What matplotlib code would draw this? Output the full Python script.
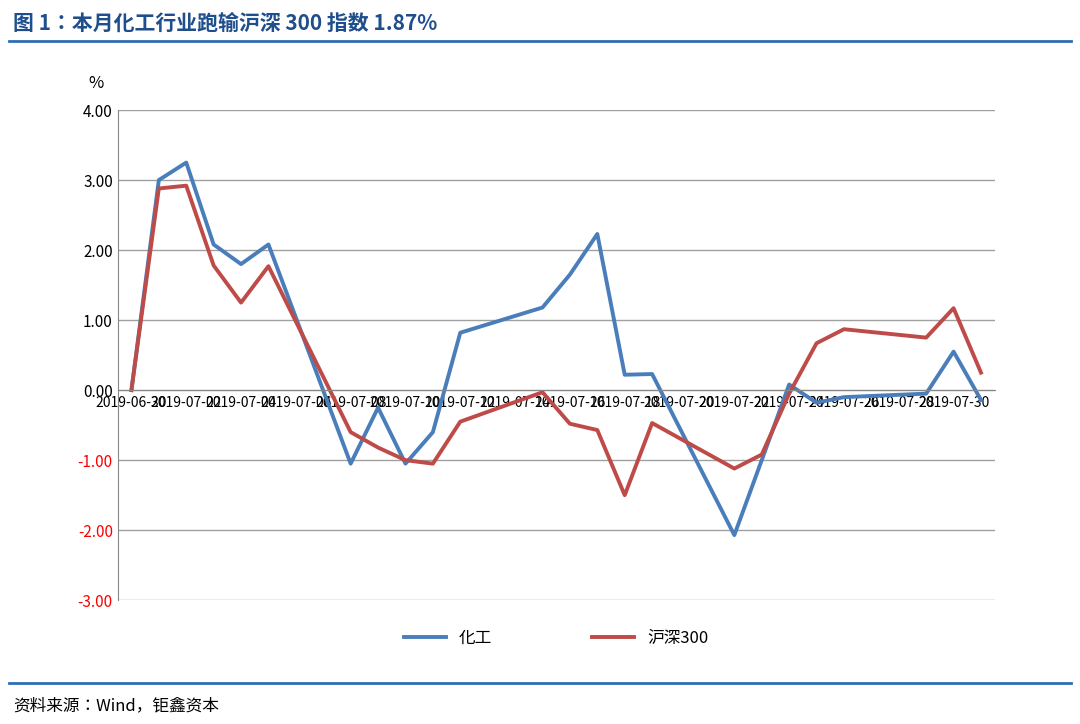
import matplotlib
matplotlib.use("Agg")
import matplotlib.pyplot as plt
import matplotlib.dates as mdates
import pandas as pd

dates = ["2019-06-30","2019-07-01","2019-07-02","2019-07-03","2019-07-04","2019-07-05",
         "2019-07-08","2019-07-09","2019-07-10","2019-07-11","2019-07-12","2019-07-15",
         "2019-07-16","2019-07-17","2019-07-18","2019-07-19","2019-07-22","2019-07-23",
         "2019-07-24","2019-07-25","2019-07-26","2019-07-29","2019-07-30","2019-07-31"]
chem = [0.0, 3.00, 3.25, 2.08, 1.80, 2.08, -1.05, -0.25, -1.05, -0.60, 0.82, 1.18,
        1.65, 2.23, 0.22, 0.23, -2.07, -1.00, 0.08, -0.18, -0.10, -0.05, 0.55, -0.14]
hs300 = [0.0, 2.88, 2.92, 1.78, 1.25, 1.77, -0.60, -0.82, -1.00, -1.05, -0.45, -0.03,
         -0.48, -0.57, -1.50, -0.47, -1.12, -0.92, -0.05, 0.67, 0.87, 0.75, 1.17, 0.25]
yticks = [4, 3, 2, 1, 0, -1, -2, -3]
xticks = pd.date_range("2019-06-30", "2019-07-30", freq="2D")

CJK = ["Noto Sans CJK SC", "Noto Sans CJK JP", "Noto Sans CJK TC", "DejaVu Sans"]
plt.rcParams["font.family"] = CJK
x = pd.to_datetime(dates)
fig = plt.figure(figsize=(10.8, 7.24), dpi=100)
fig.text(0.012, 0.968, "图 1：本月化工行业跑输沪深 300 指数 1.87%", fontsize=15, fontweight="bold",
         color="#1f4e8c", family=CJK, va="center")
fig.add_artist(plt.Line2D([0.008, 0.992], [0.943, 0.943], color="#2e6db4", lw=2))
fig.add_artist(plt.Line2D([0.008, 0.992], [0.057, 0.057], color="#2e6db4", lw=2))
fig.text(0.012, 0.025, "资料来源：Wind，钜鑫资本", fontsize=12, va="center", family=CJK)

ax = fig.add_axes([0.109, 0.171, 0.812, 0.677])
ax.plot(x, chem, color="#4a7ebb", lw=2.8, label="化工")
ax.plot(x, hs300, color="#be4b48", lw=2.8, label="沪深300")
ax.set_ylim(-3, 4)
ax.set_yticks(yticks)
ax.set_yticklabels([f"{v:.2f}" for v in yticks], fontsize=11)
for t, v in zip(ax.get_yticklabels(), yticks):
    if v < 0:
        t.set_color("red")
ax.set_xlim(pd.Timestamp("2019-06-29 12:00"), pd.Timestamp("2019-07-31 12:00"))
ax.set_xticks(xticks)
ax.set_xticklabels([d.strftime("%Y-%m-%d") for d in xticks], rotation=40, ha="right",
                   rotation_mode="anchor", fontsize=11)
ax.spines["bottom"].set_position(("data", 0))
ax.tick_params(axis="x", length=0, pad=4)
ax.tick_params(axis="y", length=0)
ax.grid(axis="y", color="#a0a0a0", lw=1)
for s in ["top", "right"]:
    ax.spines[s].set_visible(False)
ax.spines["left"].set_color("#888888")
ax.spines["bottom"].set_color("#888888")
ax.set_axisbelow(True)
fig.text(0.082, 0.878, "%", fontsize=12)
ax.legend(loc="upper center", bbox_to_anchor=(0.5, -0.03), ncol=2, frameon=False, fontsize=12,
          handlelength=2.5, columnspacing=6, prop={"family": CJK, "size": 12})
fig.savefig("out.png")
